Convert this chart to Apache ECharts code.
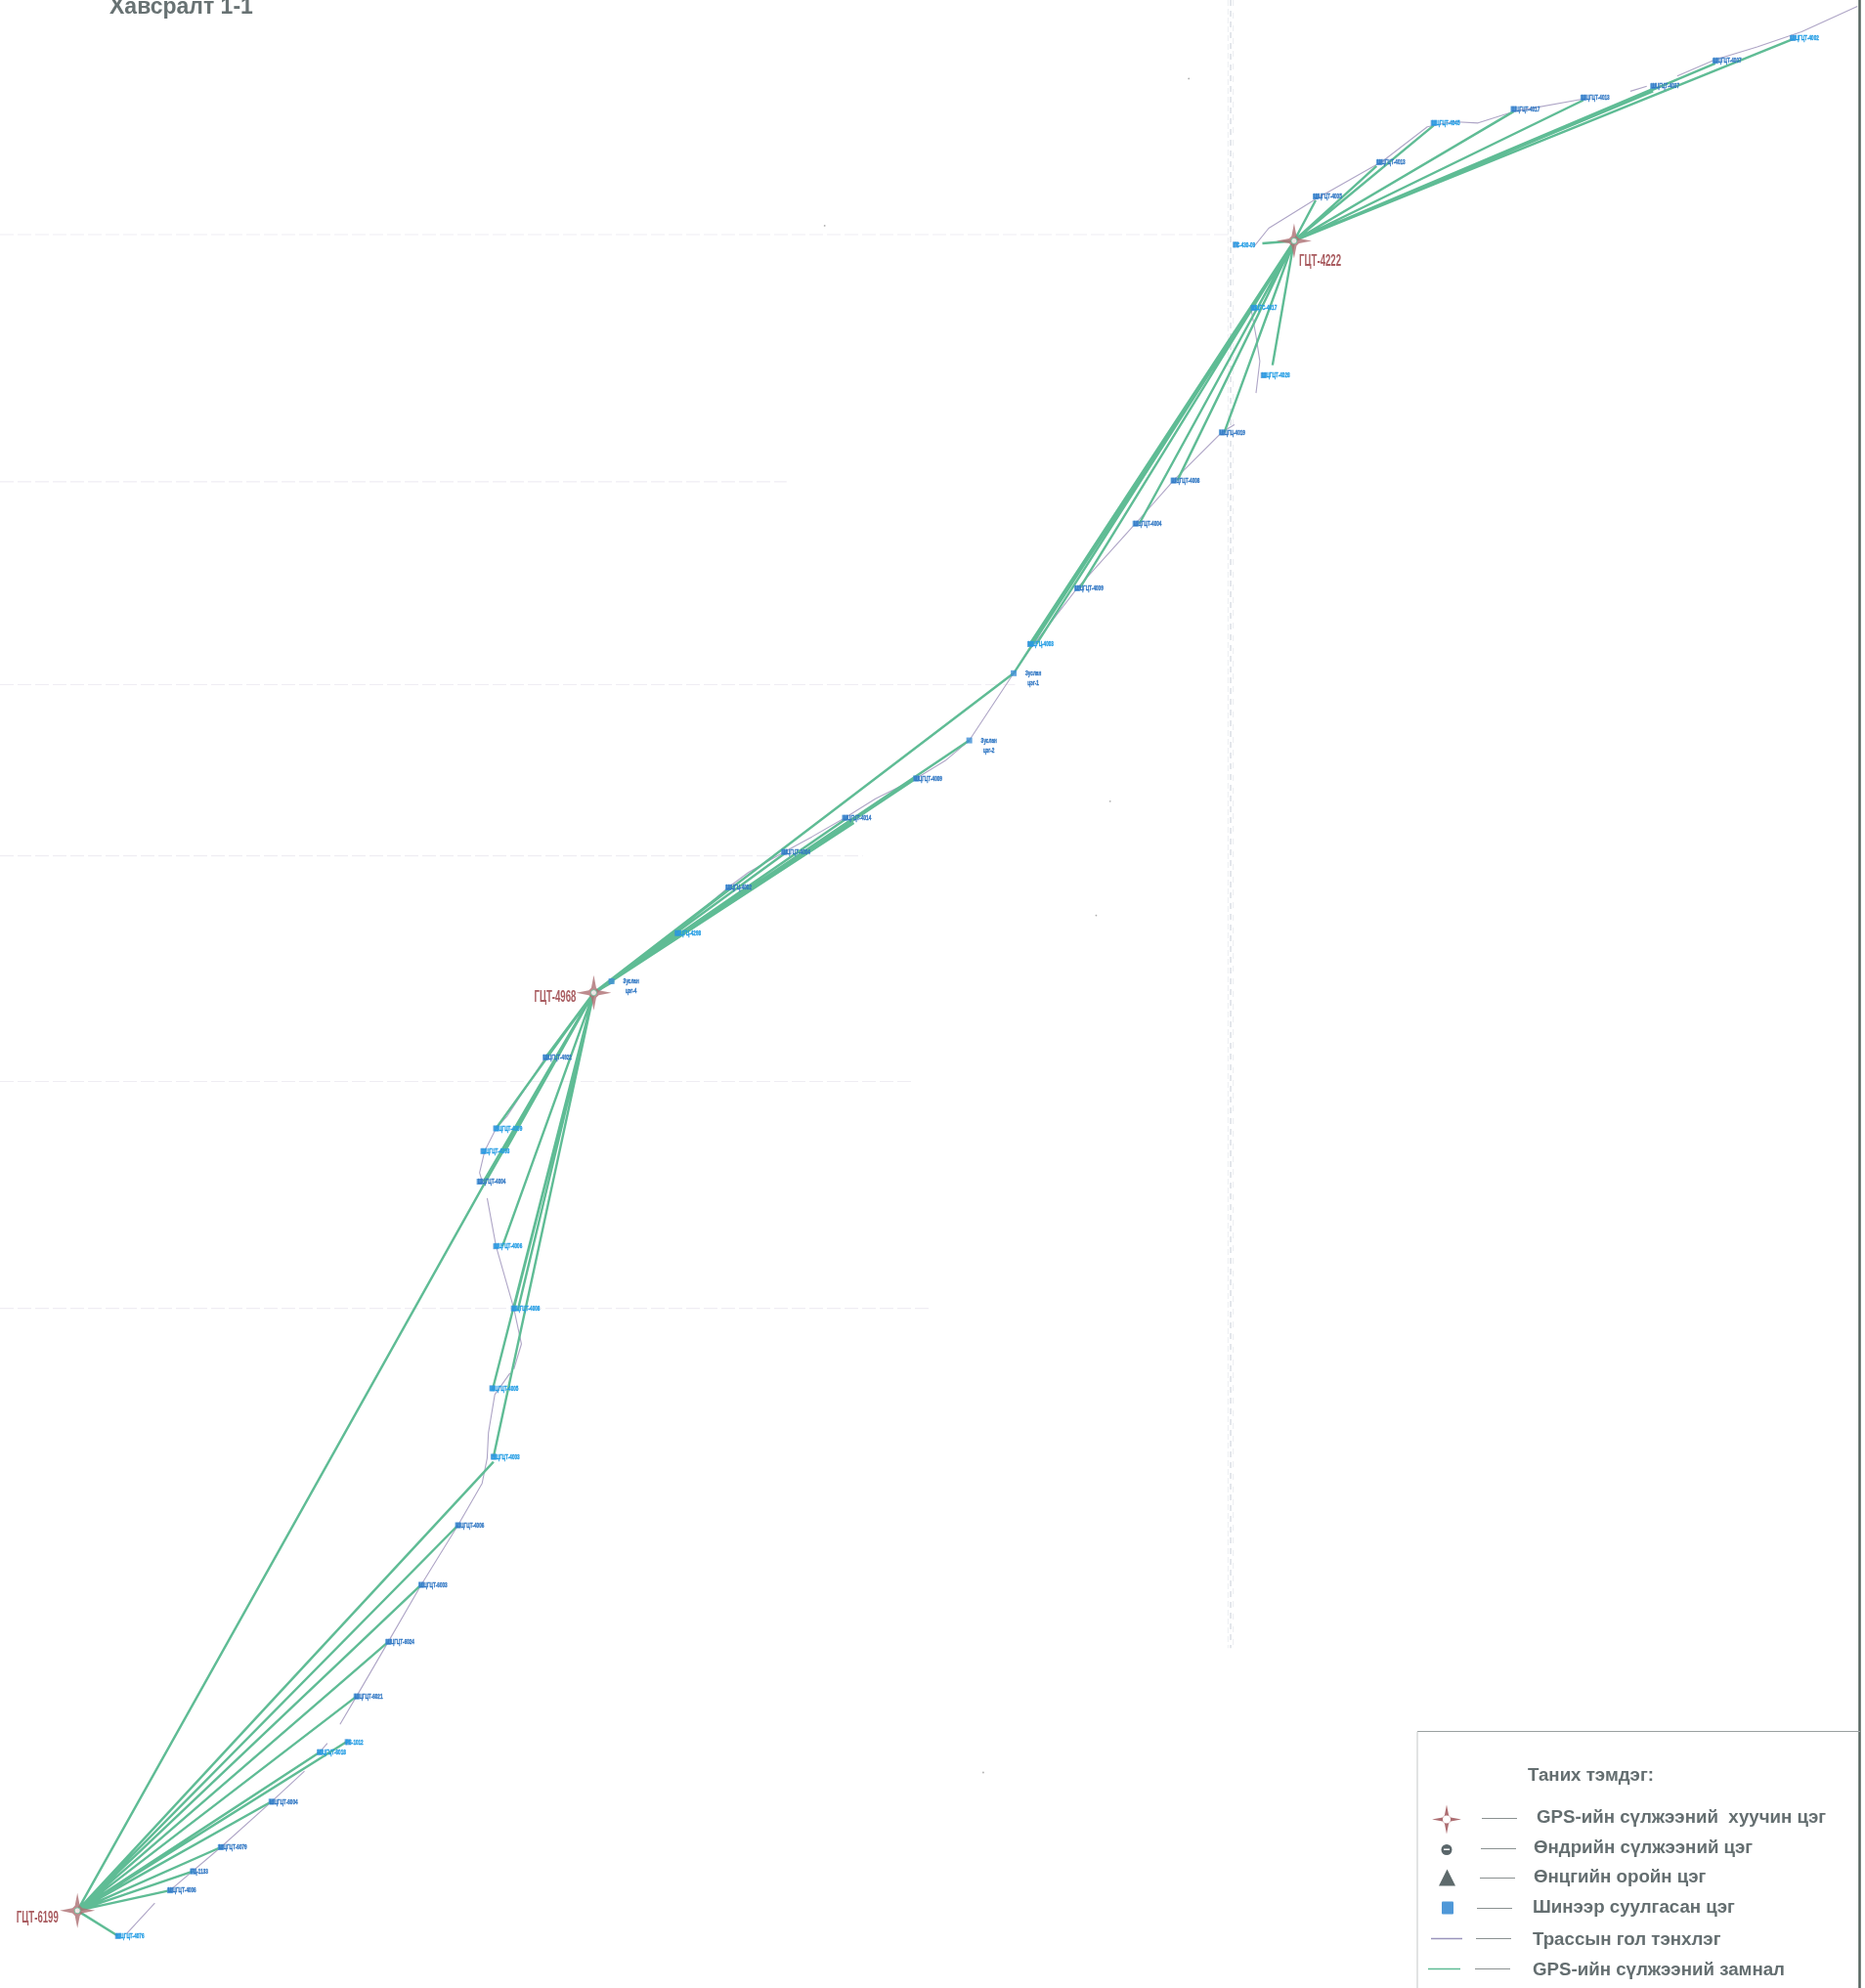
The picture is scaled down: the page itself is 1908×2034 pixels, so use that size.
<!DOCTYPE html>
<html><head><meta charset="utf-8">
<style>html,body{margin:0;padding:0;background:#fff}#c{width:1908px;height:2034px;filter:blur(.4px)}</style>
<script src="https://cdn.jsdelivr.net/npm/echarts@6/dist/echarts.min.js"></script>
</head><body><div id="c"></div>
<script>
// Stars: name, x, y
const hubNames = ['ГЦТ-4222','ГЦТ-4968','ГЦТ-6199'];
const hubX = [1020,468,61];
const hubY = [190,783,1507];
const hubLabelX = [1024,421,13];
const hubLabelY = [206,787,1513];
// Stations
const stationNames = ['ШЦГЦТ-4002','ШЦГЦТ-4007','ШЦГЦТ-4037','ШЦГЦТ-4013','ШЦГЦТ-4017','ШЦГЦТ-4045','ШЦГЦТ-4013','ШЦГЦТ-4005','ГС-430-09','ШЦГС-4017','ШЦГЦТ-4028','ШЦГЦ-4019','ШЦГЦТ-4008','ШЦГЦТ-4004','ШЦГЦТ-4009','ШЦГЦ-4003','Зуслан\nцэг-1','Зуслан\nцэг-2','ШЦГЦТ-4009','ШЦГЦТ-4014','ШЦГЦТ-4004','ШЦГЦ-4002','ШЦГЦ-4298','Зуслан\nцэг-4','ШЦГЦТ-4922','ШЦГЦТ-4009','ШЦГЦТ-4003','ШЦГЦТ-4004','ШЦГЦТ-4006','ШЦГЦТ-4008','ШЦГЦТ-4005','ШЦГЦТ-4003','ШЦГЦТ-4006','ШЦГЦТ-6003','ШЦГЦТ-6024','ШЦГЦТ-6021','PS-1012','ШЦГЦТ-6018','ШЦГЦТ-6004','ШЦГЦТ-6079','ГЦ-1133','ШЦГЦТ-4006','ШЦГЦТ-4076'];
const stationX = [1413,1352,1303,1248,1193,1130,1087,1037,974,988,996,963,925,895,849,812,799,764,722,666,618,574,534,482,430,391,381,378,391,405,388,389,361,332,306,281,274,252,214,174,152,134,93];
const stationY = [30,48,68,77,86,97,128,155,193,243,296,341,379,413,464,508,531,584,614,645,672,700,736,774,834,890,908,932,983,1032,1095,1149,1203,1250,1295,1338,1374,1382,1421,1457,1476,1491,1527];
const stationTone = [0,1,1,1,1,0,1,1,0,0,0,1,1,1,1,0,1,1,1,1,1,1,0,1,1,0,0,1,0,0,0,0,1,1,1,1,0,0,1,1,1,1,0];
// GPS network links: hub index -> end points
const link0X = [1037,1085,1130,1193,1248,1303,1303,1352,1413,995,990,1003,965,928,898,851,817,813,811,799];
const link0Y = [158,131,99,88,79,70,72,50,31,192,245,288,341,379,413,464,508,508,509,531];
const link1X = [576,620,668,673,722,764,799,534,484,430,438,391,398,381,396,405,408,388,389];
const link1Y = [700,672,645,649,614,584,531,737,774,834,834,890,908,932,983,1032,1034,1097,1149];
const link2X = [93,134,152,174,214,252,273,281,306,332,361,389,381];
const link2Y = [1527,1491,1476,1457,1421,1382,1374,1338,1295,1250,1203,1153,935];
// Long link passing 381,935 to 4968
const extraX = [381,468];
const extraY = [935,783];
// Main route centre line (null = gap)
const routeX = [1464,1420,1385,1352,1322,null,1298,1285,null,1248,1193,1165,1145,1125,1090,1037,1000,988,null,989,null,987,null,986,990,993,990,null,973,963,925,895,849,812,799,764,745,722,690,666,640,618,590,574,545,482,468,430,400,391,382,378,381,null,384,391,405,411,405,null,402,390,385,384,380,361,332,306,281,268,null,258,252,null,240,214,174,134,null,122,100];
const routeY = [5,25,37,47,60,null,68,72,null,78,88,97,96,100,127,157,180,195,null,200,null,218,null,243,265,285,310,null,335,341,379,413,464,512,531,584,600,614,630,645,660,672,688,700,725,774,785,834,880,890,908,925,935,null,945,983,1032,1060,1080,null,1083,1100,1130,1150,1170,1203,1250,1295,1338,1360,null,1375,1382,null,1397,1421,1457,1491,null,1501,1525];
// Faint scan lines on the sheet
const scanHY = [185,380,540,675,853,1032];
const scanHEnd = [970,620,800,680,720,735];
const scanVX = [968,970,972];
const speckX = [937,875,864,775,650];
const speckY = [62,632,722,1398,178];
// Legend
const legendTitle = 'Таних тэмдэг:';
const legendItems = ['GPS-ийн сүлжээний  хуучин цэг','Өндрийн сүлжээний цэг','Өнцгийн оройн цэг','Шинээр суулгасан цэг','Трассын гол тэнхлэг','GPS-ийн сүлжээний замнал'];
const pageTitle = 'Хавсралт 1-1';

const STAR = 'path://M50 0 L57 36 L64 43 L100 50 L64 57 L57 64 L50 100 L43 64 L36 57 L0 50 L36 43 L43 36 Z';
const starPts = (cx,cy,r)=>[[0,-1],[.14,-.28],[.28,-.14],[1,0],[.28,.14],[.14,.28],[0,1],[-.14,.28],[-.28,.14],[-1,0],[-.28,-.14],[-.14,-.28]].map(p=>[cx+p[0]*r,cy+p[1]*r]);
const ch = echarts.init(document.getElementById('c'));
const pairs = (xs,ys)=>xs.map((x,i)=>x===null?[null,null]:[x,ys[i]]);
const linkData = (hx,hy,xs,ys)=>{const d=[];xs.forEach((x,i)=>{d.push([hx,hy],[x,ys[i]],[null,null]);});return d;};
const green = [].concat(
  linkData(hubX[0],hubY[0],link0X,link0Y),
  linkData(hubX[1],hubY[1],link1X,link1Y),
  linkData(hubX[2],hubY[2],link2X,link2Y),
  [[extraX[0],extraY[0]],[extraX[1],extraY[1]]]
);
const scanSeries = [];
scanHY.forEach((y,i)=>scanSeries.push({type:'line',silent:true,symbol:'none',z:1,lineStyle:{color:'#efedf3',width:1.2,type:[14,4]},data:[[0,y],[scanHEnd[i],y]]}));
scanVX.forEach((x,i)=>scanSeries.push({type:'line',silent:true,symbol:'none',z:1,lineStyle:{color:i==1?'#dde1e7':'#eef0f3',width:i==1?1.6:1.2,type:[6,3+i*2]},data:[[x,0],[x,1300]]}));

ch.setOption({
  animation:false,backgroundColor:'#fff',
  grid:{left:0,right:0,top:0,bottom:0},
  xAxis:{type:'value',min:0,max:1470,show:false},
  yAxis:{type:'value',min:0,max:1568,inverse:true,show:false},
  series:[
    ...scanSeries,
    {type:'scatter',silent:true,z:1,symbolSize:1.8,itemStyle:{color:'#9a9a9a'},data:pairs(speckX,speckY)},
    {type:'line',name:'route',silent:true,symbol:'none',z:2,connectNulls:false,lineStyle:{color:'#aea5c6',width:1.1},data:pairs(routeX,routeY)},
    {type:'line',name:'gps',silent:true,symbol:'none',z:3,connectNulls:false,lineStyle:{color:'#5fbc95',width:2.4},data:green},
    {type:'scatter',name:'stations',silent:true,z:4,symbol:'rect',symbolSize:[6,6],itemStyle:{color:'#3f8fd6'},data:pairs(stationX,stationY)},
    {type:'custom',name:'stationLabels',silent:true,z:5,clip:false,
      data:pairs(stationX,stationY),
      renderItem:(p,api)=>{const c=api.coord([api.value(0),api.value(1)]),i=p.dataIndex,t=stationNames[i],two=t.includes('\n'),col=stationTone[i]?'#3278c4':'#229ce4';
        return {type:'text',x:two?c[0]+20:c[0]-2,y:two?c[1]-5:c[1],scaleX:.58,z2:5,
          style:{text:t,font:'bold 8px "Liberation Sans"',lineHeight:10,fill:col,stroke:col,lineWidth:.4,align:two?'center':'left',verticalAlign:two?'top':'middle'}};}},
    {type:'scatter',name:'hubs',silent:true,z:5,symbol:STAR,symbolSize:36,itemStyle:{color:'#ad6e72'},data:pairs(hubX,hubY)},
    {type:'custom',name:'hubLabels',silent:true,z:6,clip:false,
      data:pairs(hubLabelX,hubLabelY),
      renderItem:(p,api)=>{const c=api.coord([api.value(0),api.value(1)]);
        return {type:'text',x:c[0],y:c[1],scaleX:.6,style:{text:hubNames[p.dataIndex],font:'bold 16px "Liberation Sans"',fill:'#a95c60',align:'left',verticalAlign:'middle'}};}},
    {type:'scatter',name:'hubcentre',silent:true,z:6,symbol:'circle',symbolSize:6,itemStyle:{color:'#fff',borderColor:'#5fbc95',borderWidth:1},data:pairs(hubX,hubY)}
  ],
  graphic:[
    {type:'text',x:112,y:-4,style:{text:pageTitle,fill:'#687273',font:'bold 23px "Liberation Sans"'}},
    {type:'line',shape:{x1:1902.5,y1:0,x2:1902.5,y2:2034},style:{stroke:'#55645f',lineWidth:2.5}},
    {type:'group',x:-2,y:-1.5,children:[
    {type:'line',shape:{x1:1452,y1:1773,x2:1905,y2:1773},style:{stroke:'#9aa0a0',lineWidth:1}},
    {type:'line',shape:{x1:1452,y1:1773,x2:1452,y2:2036},style:{stroke:'#c4c8c8',lineWidth:1}},
    {type:'text',x:1565,y:1809,style:{text:legendTitle,fill:'#646e70',font:'bold 18.7px "Liberation Sans"'}},
    ...legendItems.map((t,i)=>({type:'text',x:[1574,1571,1571,1570,1570,1570][i],y:[1852,1883,1913,1944,1977,2008][i],style:{text:t,fill:'#646e70',font:'bold 18.7px "Liberation Sans"'}})),
    ...[0,1,2,3,4,5].map(i=>{const y=[1862,1893,1923,1954,1985,2016][i],x=[1518,1517,1516,1513,1512,1511][i];
      return {type:'line',shape:{x1:x,y1:y,x2:x+36,y2:y},style:{stroke:'#8b9191',lineWidth:1}};}),
    {type:'polygon',shape:{points:starPts(1482,1863,15)},style:{fill:'#ad6e72'}},
    {type:'circle',shape:{cx:1482,cy:1863,r:4},style:{fill:'#fff'}},
    {type:'circle',shape:{cx:1482,cy:1894,r:5.5},style:{fill:'#5a666a'}},
    {type:'rect',shape:{x:1479,y:1893,width:6,height:1.5},style:{fill:'#fff'}},
    {type:'polygon',shape:{points:[[1474,1931],[1491,1931],[1482.5,1914]]},style:{fill:'#5e6a6c'}},
    {type:'rect',shape:{x:1477,y:1947,width:12,height:13,r:1},style:{fill:'#4f98d8'}},
    {type:'line',shape:{x1:1466,y1:1985,x2:1498,y2:1985},style:{stroke:'#9a94bc',lineWidth:1.5}},
    {type:'line',shape:{x1:1463,y1:2016,x2:1496,y2:2016},style:{stroke:'#5fbc95',lineWidth:1.5}}
    ]}
  ]
});
</script></body></html>
